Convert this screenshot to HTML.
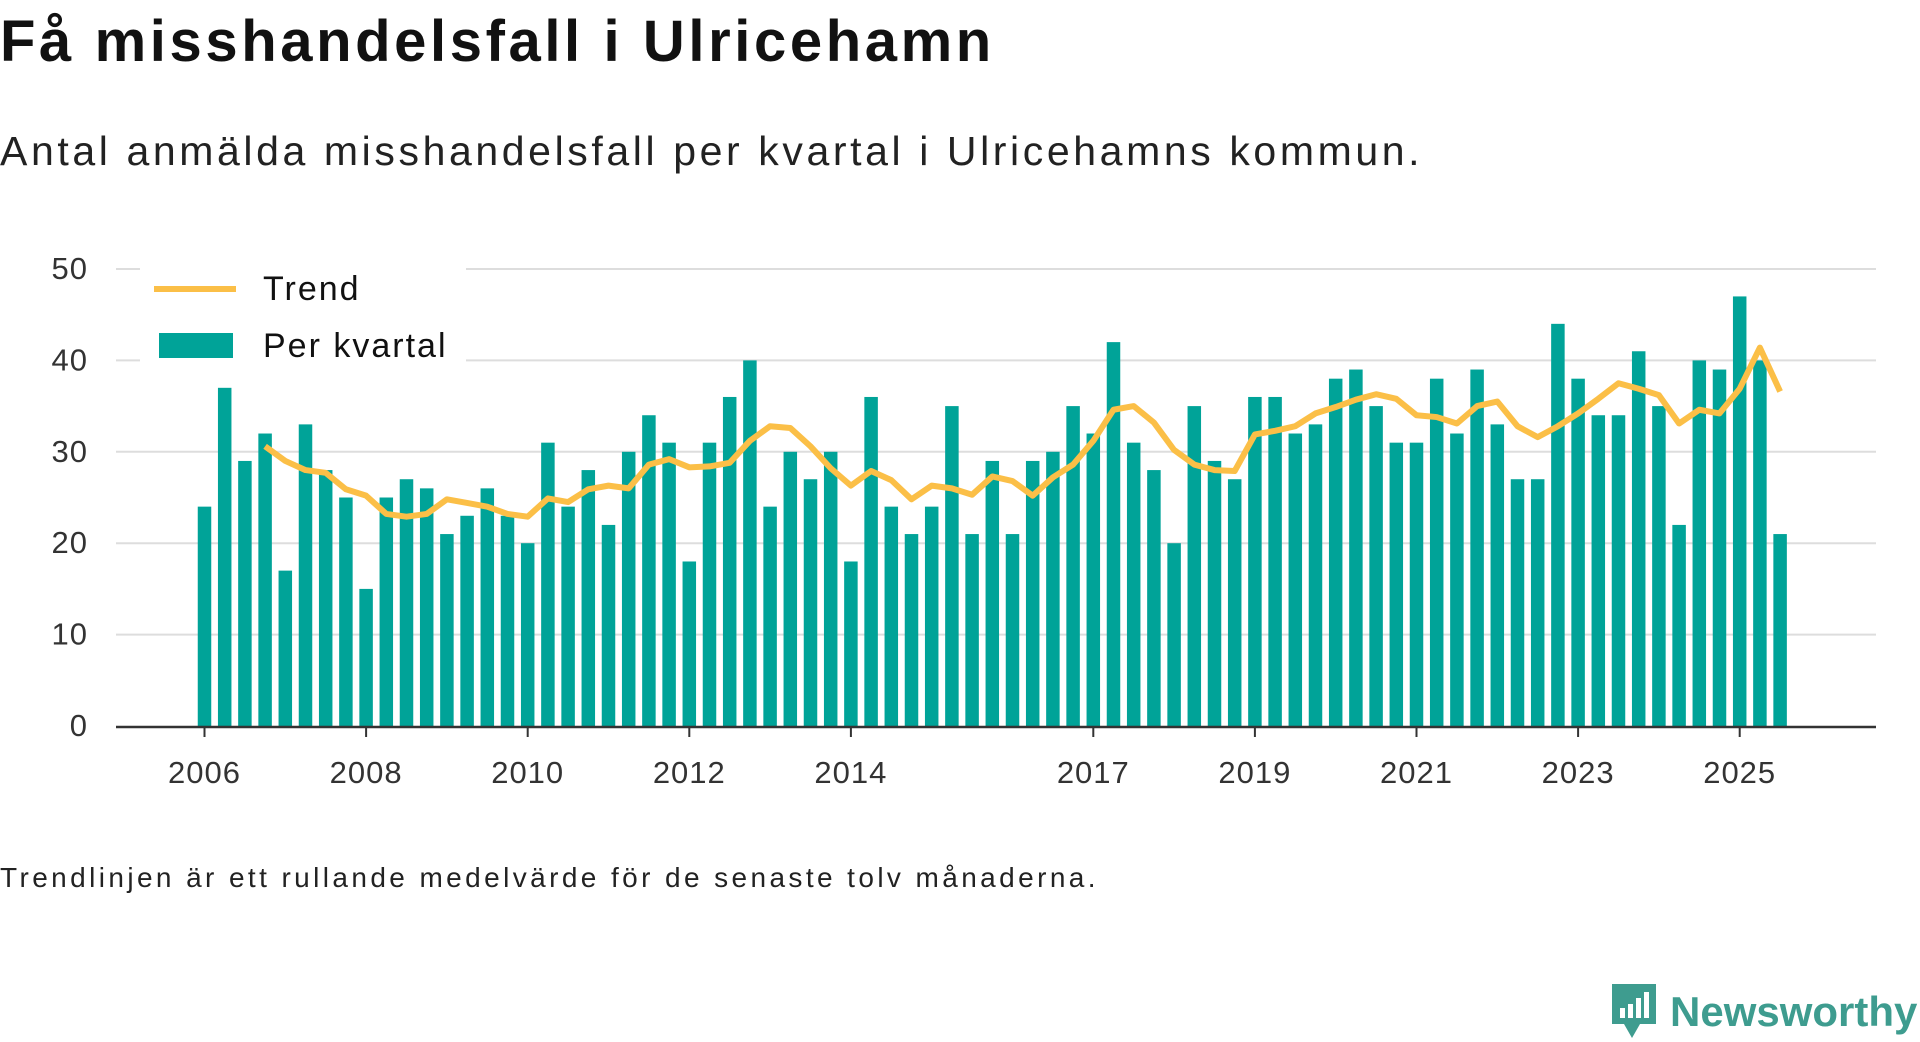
<!DOCTYPE html>
<html><head><meta charset="utf-8"><style>
html,body{margin:0;padding:0;background:#fff;width:1920px;height:1040px;overflow:hidden;font-family:"Liberation Sans",sans-serif;color:#111}
#title{position:absolute;left:0;top:8px;font-size:58px;font-weight:bold;margin:0;letter-spacing:3.6px}
#subtitle{position:absolute;left:0;top:128px;font-size:41px;color:#222;letter-spacing:3.6px}
#foot{position:absolute;left:0;top:862px;font-size:28px;color:#222;letter-spacing:3.4px}
#logo{position:absolute;left:1608px;top:982px;display:flex;align-items:center}
#logo span{font-size:42px;font-weight:bold;color:#3e9c8f;margin-left:10px}
</style></head><body>
<h1 id="title">Få misshandelsfall i Ulricehamn</h1>
<div id="subtitle">Antal anmälda misshandelsfall per kvartal i Ulricehamns kommun.</div>
<svg id="chart" width="1920" height="1040" style="position:absolute;left:0;top:0"></svg>
<div id="foot">Trendlinjen är ett rullande medelvärde för de senaste tolv månaderna.</div>
<div id="logo">
<svg width="52" height="60" viewBox="0 0 52 60"><path d="M4 2h44v40H32l-8 14-8-14H4z" fill="#3e9c8f"/><rect x="12" y="26" width="5" height="10" fill="#fff"/><rect x="20" y="22" width="5" height="14" fill="#fff"/><rect x="28" y="16" width="5" height="20" fill="#fff"/><rect x="36" y="10" width="5" height="26" fill="#fff"/></svg>
<span>Newsworthy</span></div>
<script>
const values=[24,37,29,32,17,33,28,25,15,25,27,26,21,23,26,23,20,31,24,28,22,30,34,31,18,31,36,40,24,30,27,30,18,36,24,21,24,35,21,29,21,29,30,35,32,42,31,28,20,35,29,27,36,36,32,33,38,39,35,31,31,38,32,39,33,27,27,44,38,34,34,41,35,22,40,39,47,40,21];
const trend=[null,null,null,30.6,29.0,28.0,27.7,25.9,25.2,23.2,22.9,23.2,24.8,24.4,24.0,23.2,22.9,24.9,24.5,25.9,26.3,26.0,28.6,29.2,28.3,28.4,28.8,31.2,32.8,32.6,30.6,28.2,26.3,27.9,26.9,24.8,26.3,26.0,25.3,27.3,26.8,25.2,27.2,28.6,31.2,34.6,35.0,33.2,30.2,28.6,28.0,27.9,31.9,32.3,32.8,34.2,34.9,35.7,36.3,35.8,34.0,33.8,33.1,35.0,35.5,32.8,31.6,32.8,34.2,35.8,37.5,36.9,36.2,33.1,34.6,34.2,36.9,41.4,36.6];
const yTicks=[0,10,20,30,40,50];
const xTickYears=[2006,2008,2010,2012,2014,2017,2019,2021,2023,2025];
const startYear=2006;
const svg=document.getElementById('chart');const NS='http://www.w3.org/2000/svg';
function y(v){return 726-v*(726-269)/50;}
function x(i){return 204.5+i*20.2;}
function mk(t,a,p){const e=document.createElementNS(NS,t);for(const k in a)e.setAttribute(k,a[k]);(p||svg).appendChild(e);return e;}
yTicks.forEach(v=>{
 if(v>0){const g=mk('line',{x1:116,x2:1876,y1:y(v),y2:y(v),stroke:'#ddd','stroke-width':2});
 
 }
 const t=mk('text',{x:88,y:y(v)+10,'text-anchor':'end','font-size':31,fill:'#333','font-family':'Liberation Sans, sans-serif','letter-spacing':1});t.textContent=v;
 
 
});
values.forEach((v,i)=>{const r=mk('rect',{x:x(i)-6.75,y:y(v),width:13.5,height:y(0)-y(v),fill:'#00a398'});
 
 });
const ax=mk('line',{x1:116,x2:1876,y1:727,y2:727,stroke:'#333','stroke-width':2.5});


xTickYears.forEach(yr=>{const xi=x((yr-startYear)*4);
 mk('line',{x1:xi,x2:xi,y1:727,y2:737,stroke:'#333','stroke-width':2});
 const t=mk('text',{x:xi,y:783,'text-anchor':'middle','font-size':31,fill:'#333','font-family':'Liberation Sans, sans-serif','letter-spacing':1});t.textContent=yr;
 
 });
let d='';trend.forEach((v,i)=>{if(v==null)return;d+=(d?'L':'M')+x(i)+' '+y(v);});
const tl=mk('path',{d:d,fill:'none',stroke:'#fbbf47','stroke-width':6,'stroke-linejoin':'round'});


const lg=mk('g',{});


mk('rect',{x:140,y:262,width:326,height:106,fill:'#fff'},lg);
mk('line',{x1:154,x2:236,y1:289,y2:289,stroke:'#fbbf47','stroke-width':6},lg);
const t1=mk('text',{x:263,y:300,'font-size':34,fill:'#111','font-family':'Liberation Sans, sans-serif','letter-spacing':2},lg);t1.textContent='Trend';


mk('rect',{x:159,y:333,width:74,height:25,fill:'#00a398'},lg);
const t2=mk('text',{x:263,y:357,'font-size':34,fill:'#111','font-family':'Liberation Sans, sans-serif','letter-spacing':2},lg);t2.textContent='Per kvartal';


</script>
</body></html>
